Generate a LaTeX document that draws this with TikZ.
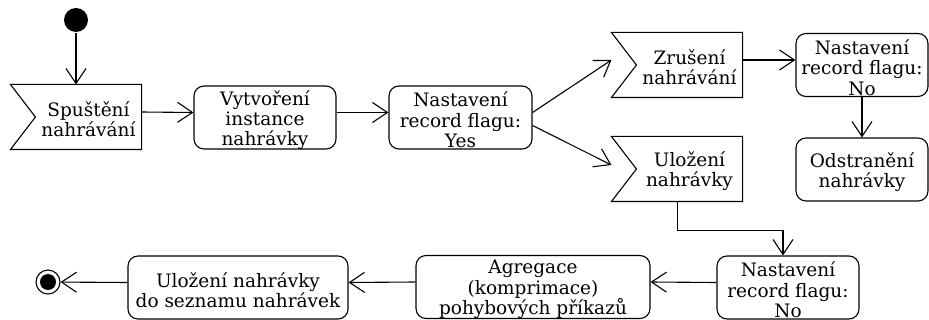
\documentclass[tikz,border=0pt]{standalone}
\usepackage{fontspec}
\setmainfont{DejaVu Serif}
\usetikzlibrary{arrows.meta}
\usetikzlibrary{positioning}
\usetikzlibrary{calc}

\begin{document}
\begin{tikzpicture}[
      x = 1pt, y = -1pt,
      >={Straight Barb[length=15pt, width=20pt]},
      line width = 1.1pt,
      every node/.style = {
        font = \fontsize{18.5}{20.3}\selectfont,
        align = center, inner sep = 0pt
      },
      caption/.style = { yshift = -2.5pt },
      action/.style 2 args = {
        rectangle, rounded corners = 10pt, draw = black,
        minimum width = #1, minimum height = 63pt,
        label = {[caption]center:{#2}}
      },
      receive/.style = {
        rectangle, minimum width = 105pt, minimum height = 64pt,
        label = {[caption]center:{#1}},
        append after command = {\pgfextra{
          \draw ([xshift=-25pt]\tikzlastnode.north west) -- (\tikzlastnode.north east)
            -- (\tikzlastnode.south east) -- ([xshift=-25pt]\tikzlastnode.south west)
            -- (\tikzlastnode.west) -- cycle;
        }}
      },
      initial/.style = { circle, fill = black, minimum size = 24pt },
      final/.style = {
        circle, draw = black, minimum size = 24pt,
        path picture = {\fill (path picture bounding box.center) circle (8pt);}
      },
    ]

    \useasboundingbox (0,0) rectangle (929,320);

    \node[initial] (start) at (76,20) {};
    \node[receive = {Spuštění\\nahrávání}, caption/.style = {yshift = -1.5pt}] (spust) at (88.5,117) {};
    \node[action = {142pt}{Vytvoření\\instance\\nahrávky}, caption/.style = {yshift = -3.5pt}] (vytv) at (265,117.5) {};
    \node[action = {143pt}{Nastavení\\record flagu:\\Yes}] (yes) at (460.5,117.5) {};
    \node[receive = {Zrušení\\nahrávání}, caption/.style = {yshift = -3pt}] (zrus) at (689.5,65) {};
    \node[receive = {Uložení\\nahrávky}, caption/.style = {yshift = -4.5pt}] (ulo) at (689.5,169) {};
    \node[action = {132pt}{Nastavení\\record flagu:\\No}] (notop) at (862,65) {};
    \node[action = {132pt}{Odstranění\\nahrávky}, caption/.style = {yshift = -6.5pt}] (odstr) at (862,169.5) {};
    \node[action = {142pt}{Nastavení\\record flagu:\\No}] (nobot) at (788,287.5) {};
    \node[action = {234pt}{Agregace\\(komprimace)\\pohybových příkazů}] (agreg) at (533,287) {};
    \node[action = {220pt}{Uložení nahrávky\\do seznamu nahrávek}] (ulsez) at (238,287.5) {};
    \node[final] (end) at (48,282) {};

    \draw[->] (start) -- (start |- spust.north);
    \draw[->] ([yshift=5pt]spust.east) -- ([yshift=5pt]vytv.west);
    \draw[->] ([yshift=5pt]vytv.east) -- ([yshift=5pt]yes.west);
    \draw[->] ([yshift=5pt]yes.east) -- ([xshift=-25pt, yshift=5pt]zrus.west);
    \draw[->] ([yshift=-8pt]yes.east) -- ([xshift=-25pt, yshift=4pt]ulo.west);
    \draw[->] ([yshift=5pt]zrus.east) -- ([yshift=5pt]notop.west);
    \draw[->] (notop) -- (odstr);
    \draw[->] ([xshift=-12pt]ulo.south) -- ++(0,29) -| ([xshift=-5pt]nobot.north);
    \draw[->] ([yshift=5pt]nobot.west) -- ([yshift=5pt]agreg.east);
    \draw[->] ([yshift=5pt]agreg.west) -- ([yshift=5pt]ulsez.east);
    \draw[->] ([yshift=5pt]ulsez.west) -- (end);
\end{tikzpicture}
\end{document}
